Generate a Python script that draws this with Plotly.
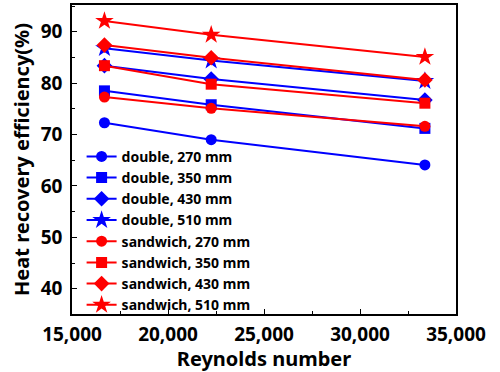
import plotly.graph_objects as go

reynolds = [16690, 22250, 33380]
names = ["double, 270 mm", "double, 350 mm", "double, 430 mm", "double, 510 mm",
         "sandwich, 270 mm", "sandwich, 350 mm", "sandwich, 430 mm", "sandwich, 510 mm"]
double_270 = [72.3, 69.0, 64.1]
double_350 = [78.5, 75.8, 71.2]
double_430 = [83.4, 80.8, 76.7]
double_510 = [86.8, 84.4, 80.4]
sandwich_270 = [77.3, 75.1, 71.6]
sandwich_350 = [83.4, 79.8, 76.1]
sandwich_430 = [87.4, 84.95, 80.6]
sandwich_510 = [92.1, 89.4, 85.1]
series = [double_270, double_350, double_430, double_510,
          sandwich_270, sandwich_350, sandwich_430, sandwich_510]
colors = ["#0000FF"] * 4 + ["#FF0000"] * 4
symbols = ["circle", "square", "diamond", "star"] * 2
sizes = [11, 11, 12, 14] * 2

FONT = "Noto Sans"
fig = go.Figure()
for i, (nm, ys) in enumerate(zip(names, series)):
    fig.add_trace(go.Scatter(
        x=reynolds, y=ys, name=nm, mode="lines+markers",
        legendgroup=f"g{i}",
        line=dict(color=colors[i], width=2),
        marker=dict(symbol=symbols[i], size=sizes[i], color=colors[i]),
    ))

axis_common = dict(
    showline=True, linecolor="black", linewidth=1.5, mirror=True,
    ticks="inside", ticklen=5, tickwidth=1, tickcolor="black",
    showgrid=False, zeroline=False, automargin=False,
    tickfont=dict(family=FONT, size=19, color="black", weight="bold"),
)
fig.update_xaxes(
    range=[15000, 35000], tickvals=[15000, 20000, 25000, 30000, 35000],
    ticktext=["15,000", "20,000", "25,000", "30,000", "35,000"],
    minor=dict(ticks="inside", ticklen=3, dtick=2500, tick0=15000, tickcolor="black"),
    ticklabelstandoff=2,
    title=dict(text="Reynolds number", font=dict(family=FONT, size=20, color="black", weight="bold"), standoff=4),
    **axis_common,
)
fig.update_yaxes(
    range=[35.1, 95.2], tickvals=[40, 50, 60, 70, 80, 90],
    minor=dict(ticks="inside", ticklen=3, dtick=5, tick0=35, tickcolor="black"),
    ticklabelstandoff=4,
    title=dict(text="Heat recovery efficiency(%)", font=dict(family=FONT, size=20, color="black", weight="bold"), standoff=6),
    **axis_common,
)
fig.update_layout(
    width=500, height=372,
    margin=dict(l=72, r=44, t=5, b=58),
    paper_bgcolor="white", plot_bgcolor="white",
    showlegend=True,
    legend=dict(x=0.025, y=-0.022, xanchor="left", yanchor="bottom",
                bgcolor="rgba(0,0,0,0)", tracegroupgap=0, maxheight=1.0,
                font=dict(family=FONT, size=14, color="black", weight="bold"),
                itemwidth=30),
)
fig.write_html("out.html", config={"displayModeBar": False},
               post_script="document.body.style.margin='0';")
